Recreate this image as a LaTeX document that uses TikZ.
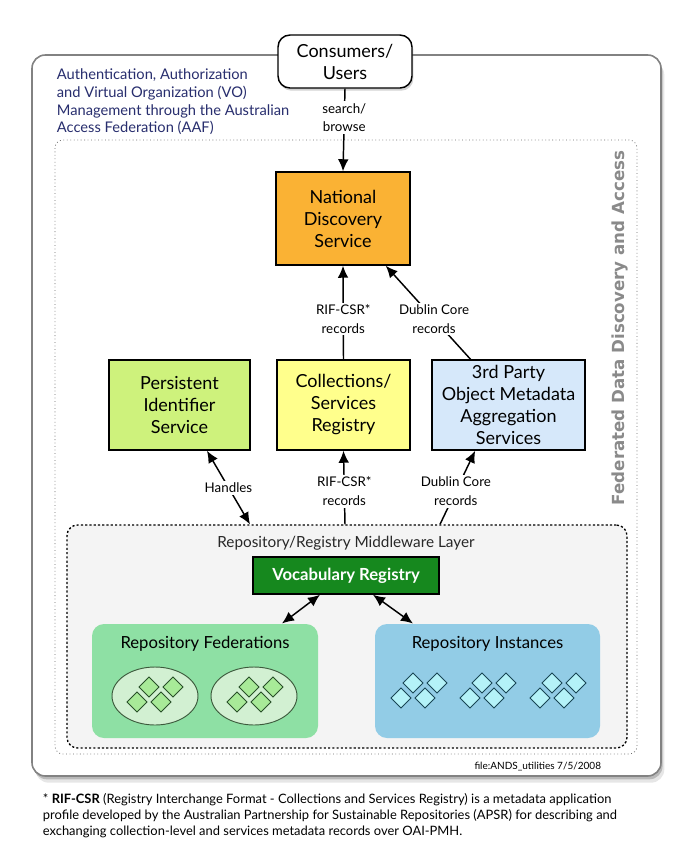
\documentclass[tikz,border=0pt]{standalone}
\usepackage{fontspec}
\setmainfont{Lato}
\newfontfamily\sidefont{DejaVu Sans}
\usetikzlibrary{arrows.meta,shadows}

\definecolor{ndsorange}{RGB}{250,178,52}
\definecolor{pidlime}{RGB}{206,242,124}
\definecolor{regyellow}{RGB}{255,255,140}
\definecolor{aggblue}{RGB}{214,232,250}
\definecolor{vocabgreen}{RGB}{22,136,30}
\definecolor{fedgreen}{RGB}{142,224,164}
\definecolor{fedpale}{RGB}{210,240,210}
\definecolor{fedgem}{RGB}{168,234,152}
\definecolor{instblue}{RGB}{146,204,230}
\definecolor{instgem}{RGB}{180,242,248}
\definecolor{mwgray}{RGB}{244,244,244}
\definecolor{aafnavy}{RGB}{40,46,110}
\definecolor{sidegray}{RGB}{138,138,138}

\tikzset{every picture/.style={line width=0.75pt}}
\tikzset{
  svcbox/.style={draw, line width=1.1pt, align=center, inner sep=0pt,
    font=\fontsize{13.5}{16.5}\selectfont},
  flowlabel/.style={fill=white, align=center, inner sep=1.5pt,
    font=\fontsize{10}{14}\selectfont},
  flow/.style={line width=1.1pt, -{Latex[length=9pt,width=8pt]}},
  bothflow/.style={line width=1.1pt, {Latex[length=9pt,width=8pt]}-{Latex[length=9pt,width=8pt]}},
  poolbox/.style={rounded corners=9pt, inner sep=0pt},
  poollabel/.style={font=\fontsize{12.5}{15}\selectfont},
  fedgemstyle/.style={fill=fedgem, draw={rgb,255:red,40;green,80;blue,40}, line width=0.6pt},
  instgemstyle/.style={fill=instgem, draw={rgb,255:red,25;green,70;blue,85}, line width=0.6pt}
}

\begin{document}
\begin{tikzpicture}[x=0.75pt,y=0.75pt,yscale=-1,xscale=1]
	\useasboundingbox (0,0) rectangle (692,850);

	%Rounded Rect [id:outer]
	\draw [draw={rgb,255:red,130;green,130;blue,130}, line width=1.2pt, fill=white, rounded corners=10pt,
		drop shadow={shadow xshift=2.5pt, shadow yshift=-5pt, fill=black!50, opacity=0.2},
		drop shadow={shadow xshift=1.2pt, shadow yshift=-2.5pt, fill=black!60, opacity=0.35}]
		(32,55) rectangle (661,776);
	%Rounded Rect [id:federated]
	\draw [draw={rgb,255:red,110;green,110;blue,110}, dotted, line width=0.6pt, rounded corners=6pt]
		(55,140) rectangle (637,754);

	% Middleware layer
	\node [draw, fill=mwgray, dash pattern=on 1.6pt off 1.6pt, line width=1pt, rounded corners=8pt,
		minimum width=420pt, minimum height=167.25pt, inner sep=0pt] (mw) at (347,636.5) {};
	% Text Node
	\node [font=\fontsize{11.5}{14}\selectfont, text={rgb,255:red,40;green,40;blue,40}] (mwtitle) at (346,543)
		{Repository/Registry Middleware Layer};

	% Consumers box
	\node [svcbox, fill=white, rounded corners=9pt, minimum width=100.5pt, minimum height=39.75pt,
		drop shadow={shadow xshift=1pt, shadow yshift=-2pt, fill=black!50, opacity=0.35}] (users) at (345,61.5)
		{Consumers/\\Users};

	% Text Node
	\node [anchor=north west, align=left, text=aafnavy, font=\fontsize{11}{13.3}\selectfont] (aaf) at (52,64)
		{Authentication, Authorization\\and Virtual Organization (VO)\\Management through the Australian\\Access Federation (AAF)};

	% Service boxes
	\node [svcbox, fill=ndsorange, minimum width=100.5pt, minimum height=69.75pt] (nds) at (343,218.5)
		{National\\Discovery\\Service};
	\node [svcbox, fill=pidlime, minimum width=105.75pt, minimum height=67.5pt] (pid) at (179.5,405)
		{Persistent\\Identifier\\Service};
	\node [svcbox, fill=regyellow, minimum width=99.75pt, minimum height=67.5pt] (csr) at (343.5,405)
		{Collections/\\Services\\Registry};
	\node [svcbox, fill=aggblue, minimum width=114.75pt, minimum height=67.5pt] (agg) at (508.5,405)
		{3rd Party\\Object Metadata\\Aggregation\\Services};

	% Vocabulary box
	\node [draw, line width=1.1pt, fill=vocabgreen, text=white, minimum width=139.5pt, minimum height=27.75pt,
		inner sep=0pt, font=\bfseries\fontsize{12.5}{15}\selectfont] (vocab) at (346,575.5) {Vocabulary Registry};

	% Repository pools
	\node [poolbox, fill=fedgreen, minimum width=169.5pt, minimum height=85.5pt] (repfed) at (205,681) {};
	\node [poolbox, fill=instblue, minimum width=168.75pt, minimum height=85.5pt] (repinst) at (487.5,681) {};
	\node [poollabel] (repfedtitle) at (205,644) {Repository Federations};
	\node [poollabel] (repinsttitle) at (487.5,644) {Repository Instances};

	%Ellipses
	\foreach \cx in {155,254}
		\draw [fill=fedpale, draw={rgb,255:red,60;green,90;blue,60}, line width=0.7pt] (\cx,696) ellipse [x radius=43, y radius=29];

	%Diamonds
	\foreach \bx/\by in {137/702, 237/702}
		\foreach \dx/\dy in {0/0, 24/0, 12/-15, 36/-15}
			\draw [fedgemstyle] (\bx+\dx,\by+\dy-10) -- ++(10,10) -- ++(-10,10) -- ++(-10,-10) -- cycle;
	\foreach \bx/\by in {401/698, 470/698, 540/698}
		\foreach \dx/\dy in {0/0, 24/0, 12/-15, 36/-15}
			\draw [instgemstyle] (\bx+\dx,\by+\dy-10) -- ++(10,10) -- ++(-10,10) -- ++(-10,-10) -- cycle;

	%Connectors
	\draw [flow] (users.south) -- node [flowlabel, pos=0.35] {search/\\browse} (nds.north);
	\draw [flow] (csr.north) -- node [flowlabel, pos=0.43] {RIF-CSR*\\records} (nds.south);
	\draw [flow] ([xshift=-28.5pt]agg.north) -- node [flowlabel, pos=0.43] {Dublin Core\\records} ([xshift=-18.75pt]nds.south east);
	\draw [bothflow] ([xshift=-72.75pt]mw.north) -- node [flowlabel, pos=0.5] {Handles} ([xshift=20.6pt]pid.south);
	\draw [flow] ([xshift=-1.5pt]mw.north) -- node [flowlabel, pos=0.45] {RIF-CSR*\\records} (csr.south);
	\draw [flow] ([xshift=69.75pt]mw.north) -- node [flowlabel, pos=0.45] {Dublin Core\\records} ([xshift=-25pt]agg.south);
	\draw [bothflow] ([xshift=-19.5pt]vocab.south) -- ([xshift=57.75pt]repfed.north);
	\draw [bothflow] ([xshift=20.25pt]vocab.south) -- ([xshift=-55.9pt]repinst.north);

	% Text Node
	\node [rotate=90, text=sidegray, font=\sidefont\bfseries\fontsize{12.5}{15}\selectfont] (sidetitle) at (620,328)
		{Federated Data Discovery and Access};
	% Text Node
	\node [anchor=east, font=\fontsize{7.5}{9}\selectfont] (fileinfo) at (606,767) {file:ANDS\_utilities 7/5/2008};
	% Text Node
	\node [anchor=north west, align=left, font=\fontsize{9.7}{11.7}\selectfont] (footnote) at (38,789)
		{* \textbf{RIF-CSR} (Registry Interchange Format - Collections and Services Registry) is a metadata application\\
		profile developed by the Australian Partnership for Sustainable Repositories (APSR) for describing and\\
		exchanging collection-level and services metadata records over OAI-PMH.};

\end{tikzpicture}
\end{document}
